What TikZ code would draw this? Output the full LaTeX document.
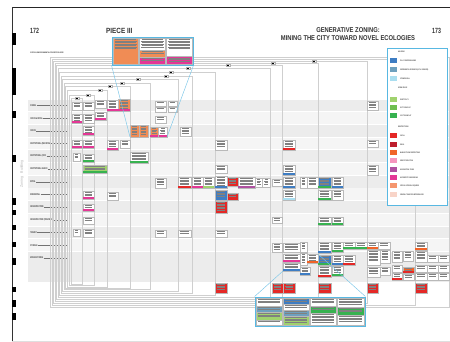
\documentclass[tikz,border=0pt]{standalone}
\usepackage{fontspec}
\setmainfont{Liberation Sans}
\usepackage{graphicx}
\definecolor{cyb}{RGB}{88,184,226}
\definecolor{orn}{RGB}{240,140,85}
\definecolor{mag}{RGB}{228,55,150}
\definecolor{grn}{RGB}{55,178,80}
\definecolor{lgr}{RGB}{160,210,110}
\definecolor{mgr}{RGB}{110,190,80}
\definecolor{rd}{RGB}{228,40,38}
\definecolor{drd}{RGB}{190,30,45}
\definecolor{orr}{RGB}{240,100,40}
\definecolor{blu}{RGB}{62,125,195}
\definecolor{sbl}{RGB}{110,160,190}
\definecolor{lcy}{RGB}{170,222,240}
\definecolor{pnk}{RGB}{245,150,190}
\definecolor{pur}{RGB}{175,80,160}
\definecolor{sal}{RGB}{245,150,110}
\definecolor{pal}{RGB}{248,212,200}
\newcommand{\zc}[7]{%
 \node[cellbox, fill=#6, minimum width={(#4-#2)*1pt}, minimum height={(#5-#3)*1pt}] (#1) at ({(#2+#4)/2},{(#3+#5)/2}) {};
 \fill[fill=#7] ({#2+0.4},{#5-2.4}) rectangle ({#4-0.4},{#5-0.4});
 \pgfmathtruncatemacro\nl{max(1,min(7,floor((#5-#3-3)/1.5)))}%
 \foreach \q in {1,...,\nl}{\draw[txt] ({#2+1.6+0.8*mod(\q,2)},{#3+1.5+1.5*(\q-1)}) -- ({#4-1.6-0.8*mod(\q,2)},{#3+1.5+1.5*(\q-1)});}
}
\begin{document}
\begin{tikzpicture}[x=1pt,y=-1pt,
  cellbox/.style={draw=gray!55, line width=0.35pt, inner sep=0pt, outer sep=0pt},
  frame/.style={draw=gray!38, line width=0.55pt},
  txt/.style={draw=black!50, line width=0.25pt},
  lead/.style={draw=black!55, line width=0.3pt},
  rowlab/.style={anchor=west, inner sep=0.3pt, font=\fontsize{2.6}{3}\selectfont\bfseries, text=black!80},
  flab/.style={draw=gray!60, fill=white, minimum width=4pt, minimum height=2.6pt, inner sep=0pt, line width=0.3pt},
  callbox/.style={draw=cyb, line width=0.9pt, inner sep=0pt},
  callline/.style={draw=cyb!80, line width=0.45pt},
  legt/.style={anchor=west, inner sep=0pt, font=\fontsize{2}{2.4}\selectfont\bfseries, text=black!75},
  sw/.style={minimum width=7pt, minimum height=5pt, inner sep=0pt},
  hdr/.style={inner sep=0pt, text=black!80, font=\fontsize{7.5}{8}\selectfont\bfseries}]
\useasboundingbox (0,0) rectangle (450,342);
\fill[white] (0,0) rectangle (450,342);
% page edges
\draw[black!85, line width=1.3pt] (12,7.5) -- (450,7.5);
\draw[black!80, line width=0.7pt] (12,7.5) -- (12,342);
\draw[gray!25, line width=0.6pt] (12,341) -- (450,341);
\foreach \a/\b in {33/45,68/95,111/118,155/162,198/205,210/215,225/230,242/247,258/265,287/292,300/307,313/320}
  \fill[black] (12,\a) rectangle (16,\b);
% headings
\node[hdr, anchor=west] (p172) at (30,31) {\scalebox{0.7}[1]{172}};
\node[hdr, anchor=west] (piece) at (106,31) {\scalebox{0.85}[1]{PIECE III}};
\node[hdr, font=\fontsize{7}{8}\selectfont\bfseries] (t1) at (348,30) {\scalebox{0.83}[1]{GENERATIVE ZONING:}};
\node[hdr, font=\fontsize{7}{8}\selectfont\bfseries] (t2) at (348,38) {\scalebox{0.83}[1]{MINING THE CITY TOWARD NOVEL ECOLOGIES}};
\node[hdr, anchor=west] (p173) at (432,31) {\scalebox{0.7}[1]{173}};
\node[rowlab, font=\fontsize{2}{2.4}\selectfont\bfseries] (spat) at (30,53) {\scalebox{0.75}[1]{SPATIAL/ENVIRONMENTAL PRIORITIES HERE}};
\node[rotate=90, inner sep=0pt, font=\fontsize{3.6}{4}\selectfont, text=gray!60] (vt) at (22,174) {Zoning\quad Building};
% row bands
\foreach \i in {0,...,11}{
  \pgfmathsetmacro\yy{105.5+12.7*\i}
  \ifodd\i \def\bc{gray!8}\else\def\bc{gray!15}\fi
  \fill[\bc] (28,\yy-5.9) rectangle (450,\yy+5.9);
}
\fill[gray!15] (28,252) rectangle (450,282);
% row labels
\foreach \i/\t in {0/ZONING,1/OFFICE \& RETAIL,2/OFFICE,3/INSTITUTIONAL (INDUSTRIAL/ RESEARCH),4/INSTITUTIONAL (CIVIC/ MUSEUM),5/INSTITUTIONAL HEALTH,6/RETAIL / BUSINESS,7/RESIDENTIAL,8/INFRASTRUCTURE,9/INFRASTRUCTURE (TRANSPORT),10/TRANSIT,11/STORAGE,12/MANUFACTURING}{
  \pgfmathsetmacro\yy{105.5+12.7*\i}
  \node[rowlab] (lab\i) at (30,\yy) {\scalebox{0.55}[1]{\t}};
  \coordinate (le\i) at (68,\yy);
  \draw[lead] (lab\i.east) -- (le\i);
}
% nested frames
\foreach \t/\l/\r/\b in {57/50.5/449/307,59/52/415/305,61/53.5/367/303,63/55/318/301,65/56.5/282/299,68/58/270/297,72/59.5/215/295,76/61/192/293,79/62.5/178/291,83/64/150/289,86/65.5/130/288,90/67/107/287,95/69.5/94.5/285.5,98/71.5/82.5/284}
  \draw[frame] (\l,\t) rectangle (\r,\b);
\foreach \n/\x/\y in {a/314/61,b/273/63,c/228/65,d/188/68,e/171/72,f/166/76,g/138/79,h/122/83,i/110/86,j/100/90,k/88/95,l/77/98}
  \node[flab] (fl\n) at (\x,\y) {\rule{2pt}{0.4pt}};
% cells
\zc{c1}{72}{102}{82}{110}{white}{none}
\zc{c2}{72}{114}{82}{123}{white}{mag}
\zc{c3}{72}{140}{82}{148}{white}{mag}
\zc{c4}{73}{153}{80}{161}{white}{none}
\zc{c5}{73}{229}{80}{236}{white}{none}
\zc{d1}{83}{102}{94}{110}{white}{none}
\zc{d2}{83}{114}{94}{123}{white}{none}
\zc{d3}{83}{126}{94}{135}{white}{mag}
\zc{d4}{83}{140}{94}{148}{white}{mag}
\zc{d5}{83}{154}{94}{162}{white}{grn}
\zc{d6}{83}{165}{107}{173}{lgr}{grn}
\zc{d7}{83}{191}{94}{199}{white}{mag}
\zc{d8}{83}{204}{94}{211}{white}{mag}
\zc{d9}{83}{217}{94}{224}{white}{none}
\zc{d10}{83}{229}{94}{237}{white}{none}
\zc{e1}{95}{100}{106}{108}{white}{none}
\zc{e2}{95}{112}{106}{120}{white}{mag}
\zc{f1}{107}{100}{118}{111}{white}{mag}
\zc{f2}{118}{99}{130}{111}{orn}{mag}
\zc{f3}{107}{140}{118}{150}{white}{mag}
\zc{f4}{120}{140}{130}{148}{white}{none}
\zc{f5}{107}{192}{118}{200}{white}{none}
\zc{g1}{130}{125}{139}{137}{orn}{none}
\zc{g2}{139}{125}{148}{137}{orn}{none}
\zc{h1}{150}{127}{158.5}{137}{orn}{mag}
\zc{h2}{158.5}{127}{167}{137}{white}{mag}
\zc{g3}{130}{152}{148}{163}{white}{grn}
\zc{h3}{155}{101}{166}{106}{white}{none}
\zc{h4}{168}{101}{177}{106}{white}{none}
\zc{h5}{155}{107}{166}{112}{white}{none}
\zc{h6}{168}{107}{177}{112}{white}{none}
\zc{h7}{155}{116}{166}{123}{white}{none}
\zc{h8}{180}{127}{191}{136}{white}{none}
\zc{h9}{155}{178}{166}{188}{white}{none}
\zc{h10}{178}{177}{191}{188}{white}{rd}
\zc{h11}{192}{177}{203}{188}{white}{mag}
\zc{h12}{203}{177}{214}{188}{white}{lgr}
\zc{h13}{155}{230}{166}{237}{white}{none}
\zc{h14}{178}{230}{191}{237}{white}{none}
\zc{i1}{215}{140}{227}{150}{white}{none}
\zc{i2}{215}{165}{227}{173}{white}{none}
\zc{i3}{215}{176}{227}{188}{white}{blu}
\zc{i4}{227}{177}{238}{186}{rd}{none}
\zc{i5}{238}{177}{255}{188}{white}{pur}
\zc{i6}{255}{178}{262.5}{187}{white}{none}
\zc{i7}{262.5}{178}{270}{187}{white}{none}
\zc{i8}{215}{190}{227}{200}{blu}{none}
\zc{i9}{227}{193}{238}{200}{rd}{none}
\zc{i10}{215}{201}{227}{213}{rd}{none}
\zc{i11}{215}{230}{227}{237}{white}{none}
\zc{i12}{215}{283}{227}{293}{rd}{none}
\zc{j1}{272}{179}{282}{186}{white}{none}
\zc{j2}{272}{217}{282}{223}{white}{none}
\zc{j3}{272}{243}{282}{252}{white}{none}
\zc{j4}{272}{283}{283}{293}{rd}{none}
\zc{k1}{283}{140}{295}{150}{white}{rd}
\zc{k2}{283}{165}{295}{175}{white}{blu}
\zc{k3}{283}{177}{295}{188}{white}{blu}
\zc{k4}{283}{190}{295}{200}{white}{lcy}
\zc{k5}{283}{243}{300}{252}{white}{none}
\zc{k6}{283}{254}{300}{262}{white}{mag}
\zc{k7}{283}{263}{300}{271}{white}{blu}
\zc{k8}{283.5}{283}{295}{293}{rd}{none}
\zc{k9}{300}{177}{307}{188}{white}{none}
\zc{k10}{307}{177}{318}{188}{white}{none}
\zc{k11}{300}{242}{307}{252}{white}{none}
\zc{k12}{300}{253}{307}{265}{white}{none}
\zc{k13}{307}{254}{318}{263}{white}{orr}
\zc{k14}{300}{267}{310}{275}{white}{blu}
\zc{l1}{318}{177}{331}{188}{blu}{grn}
\zc{l2}{332}{177}{343}{188}{white}{blu}
\zc{l3}{318}{190}{331}{200}{white}{grn}
\zc{l4}{332}{190}{343}{200}{white}{none}
\zc{l5}{318}{217}{331}{225}{white}{grn}
\zc{l6}{332}{217}{343}{225}{white}{grn}
\zc{l7}{318}{242}{331}{253}{white}{blu}
\zc{l8}{332}{242}{343}{252}{white}{grn}
\zc{l9}{343}{242}{355}{249}{white}{grn}
\zc{l10}{355}{242}{367}{249}{white}{grn}
\zc{l11}{318}{255}{331}{265}{blu}{grn}
\zc{l12}{332}{255}{343}{265}{white}{blu}
\zc{l13}{343}{255}{355}{265}{white}{rd}
\zc{l14}{318}{266}{331}{277}{white}{rd}
\zc{l15}{332}{266}{343}{276}{white}{grn}
\zc{l16}{318}{283}{331}{293}{rd}{none}
\zc{m1}{367}{101}{378}{110}{white}{none}
\zc{m2}{367}{140}{378}{147}{white}{none}
\zc{m3}{367}{165}{378}{175}{white}{none}
\zc{m4}{367}{242}{378}{249}{white}{orr}
\zc{m5}{378}{242}{390}{249}{white}{none}
\zc{m6}{367}{250}{380}{265}{white}{none}
\zc{m7}{380}{250}{390}{263}{white}{none}
\zc{m8}{392}{251}{402}{262}{white}{none}
\zc{m9}{403}{251}{413}{261}{white}{none}
\zc{m10}{367}{267}{380}{277}{white}{none}
\zc{m11}{380}{267}{390}{275}{white}{none}
\zc{m12}{392}{265}{402}{272}{white}{none}
\zc{m13}{403}{267}{414}{273}{orr}{rd}
\zc{m14}{392}{273}{402}{280}{white}{rd}
\zc{m15}{403}{274}{414}{280}{white}{none}
\zc{m16}{367}{283}{378}{293}{rd}{none}
\zc{n1}{415}{242}{427}{250}{white}{orr}
\zc{n2}{415}{251}{427}{262}{white}{none}
\zc{n3}{427}{255}{438}{262}{white}{none}
\zc{n4}{438}{255}{449}{262}{white}{none}
\zc{n5}{415}{265}{427}{272}{white}{none}
\zc{n6}{427}{265}{438}{272}{white}{none}
\zc{n7}{438}{265}{449}{272}{white}{none}
\zc{n8}{415}{273}{427}{280}{white}{none}
\zc{n9}{427}{273}{438}{280}{white}{none}
\zc{n10}{438}{273}{449}{280}{white}{none}
\zc{n11}{415}{283}{427}{293}{rd}{none}
% top callout
\zc{ta}{113}{38}{138.5}{64}{orn}{none}
\zc{tb1}{139.5}{38}{165.5}{50}{white}{none}
\zc{tb2}{139.5}{50}{165.5}{57}{orn}{none}
\zc{tb3}{139.5}{57}{165.5}{64}{mag}{none}
\zc{tc1}{166.5}{38}{192}{56}{white}{none}
\zc{tc2}{166.5}{56.5}{192}{64}{mag}{none}
\node[callbox, minimum width=81pt, minimum height=28pt] (tcall) at (152.5,51) {};
\draw[callline] (tcall.south west) -- (g1.south west);
\draw[callline] (tcall.south east) -- (h2.south east);
% bottom callout
\zc{ba1}{256}{298}{282}{306}{white}{none}
\zc{ba2}{256}{306}{282}{312}{sbl}{none}
\zc{ba3}{256}{312}{282}{320}{lgr}{none}
\zc{ba4}{256}{320}{282}{325}{white}{none}
\zc{bb1}{283}{298}{309}{304}{blu}{none}
\zc{bb2}{283}{304}{309}{310}{white}{none}
\zc{bb3}{283}{310}{309}{316}{sbl}{none}
\zc{bb4}{283}{316}{309}{325}{lgr}{none}
\zc{bc1}{310}{298}{336}{306}{white}{none}
\zc{bc2}{310}{306}{336}{313}{grn}{none}
\zc{bc3}{310}{313}{336}{325}{white}{none}
\zc{bd1}{337}{298}{364}{307}{white}{none}
\zc{bd2}{337}{307}{364}{315}{grn}{none}
\zc{bd3}{337}{315}{364}{325}{white}{none}
\node[callbox, minimum width=110pt, minimum height=29pt] (bcall) at (310,311.5) {};
\draw[callline] (bcall.north west) -- (k7.south west);
\draw[callline] (bcall.north east) -- (k13.north east);
% legend
\node[callbox, fill=white, minimum width=60pt, minimum height=157pt] (leg) at (417,126.5) {};
\node[legt] (lh1) at (398,52) {\scalebox{0.7}[1]{HOUSING}};
\node[legt] (lh2) at (398,88) {\scalebox{0.7}[1]{OPEN SPACE}};
\node[legt] (lh3) at (398,127) {\scalebox{0.7}[1]{RESTRICTIONS}};
\foreach \n/\y/\c/\t in {1/60.5/blu/FULLY CREATED BUILDING,2/69.5/sbl/EXPERIMENTAL RESIDENCE (LOT \& CURB SIZE),3/78.5/lcy/SITE WIDE WALL,4/99.5/lgr/ROOFTOP AT 1/4 LOT SIZE FOR PLANTING,5/107.5/mgr/50 FT ROOM FLAT,6/115.5/grn/100 FT ROOM FLAT,7/135.5/rd/SOCIAL / LOTTERY RESTRICTIONS,8/144.5/drd/RURAL / SMALL TRADE RESTRICTIONS,9/152.5/orr/MANUFACTURING RESTRICTIONS,10/160.5/pnk/DENSITY REDUCTION,11/169.5/pur/NO INDUSTRIAL TRADE,12/177.5/mag/NO PROPERTY SUBDIVISIONS,13/185.5/sal/SPECIAL APPROVAL REQUIRED,14/194.5/pal/GENERAL TRANSITION BETWEEN USES}{
  \node[sw, fill=\c] (sw\n) at (393.5,\y) {};
  \node[legt] (lt\n) at (400,\y) {\scalebox{0.6}[1]{\t}};
}
\end{tikzpicture}
\end{document}
